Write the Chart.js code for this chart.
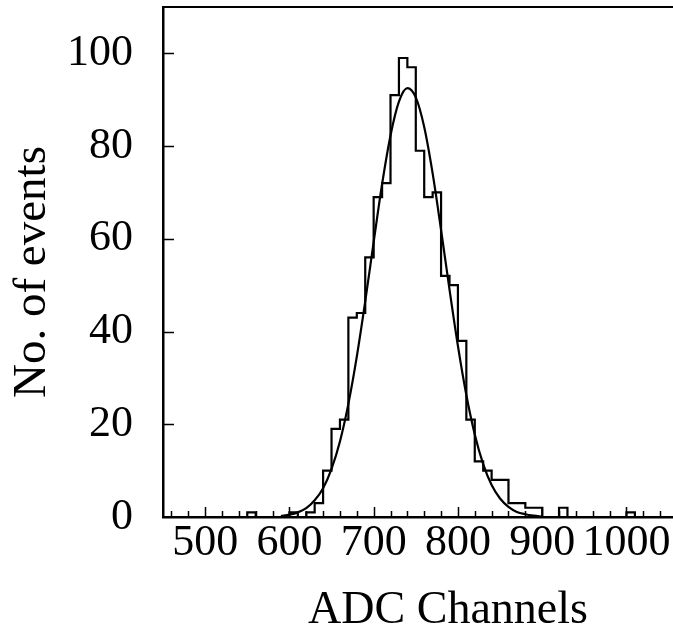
<!DOCTYPE html>
<html>
<head>
<meta charset="utf-8">
<script src="https://cdn.jsdelivr.net/npm/chart.js@4/dist/chart.umd.min.js"></script>
<style>
  html, body { margin: 0; padding: 0; background: #fff; overflow: hidden; }
  #wrap { position: relative; width: 677px; height: 630px; }
  .ttl { position: absolute; font-family: "Liberation Serif", "DejaVu Serif", serif; color: #000; white-space: nowrap; text-align: center; line-height: 50px; height: 50px; }
  #xt { left: 148px; top: 583px; width: 600px; font-size: 46px; }
  #yt { left: -171px; top: 247px; width: 400px; font-size: 47px; transform: rotate(-90deg); }
</style>
</head>
<body>
<div id="wrap">
  <canvas id="c"></canvas>
  <div class="ttl" id="xt">ADC Channels</div>
  <div class="ttl" id="yt">No. of events</div>
</div>
<script>
// Histogram bins (lower edges, ADC channels) and counts
const binLow = [450,460,470,480,490,500,510,520,530,540,
                550,560,570,580,590,600,610,620,630,640,
                650,660,670,680,690,700,710,720,730,740,
                750,760,770,780,790,800,810,820,830,840,
                850,860,870,880,890,900,910,920,930,940,
                950,960,970,980,990,1000,1010,1020,1030,1040,1050];
const counts = [0,0,0,0,0,0,0,0,0,0,
                1,0,0,0,0,1,0,1,3,10,
                19,21,43,44,56,69,72,91,99,97,
                79,69,70,52,50,38,21,12,10,8,
                8,3,3,2,2,0,0,2,0,0,
                0,0,0,0,0,1,0,0,0,0,0];
const binWidth = 10;

// Gaussian fit curve
const fitX = [590,600,610,620,630,640,650,660,670,680,690,700,710,720,730,740,
              750,760,770,780,790,800,810,820,830,840,850,860,870,880,890,900];
const fitY = [0.2,0.5,1.0,1.9,3.6,6.2,10.4,16.3,24.4,34.6,46.5,59.3,71.8,82.3,89.6,92.5,
              90.5,84.1,74.1,61.9,49.1,36.9,26.3,17.8,11.4,6.9,4.0,2.2,1.1,0.6,0.3,0.1];

// Axis ticks
const xTickValues = [460,480,500,520,540,560,580,600,620,640,660,680,700,720,740,760,780,800,
                     820,840,860,880,900,920,940,960,980,1000,1020,1040];
const xTickLabels = [500,600,700,800,900,1000];
const yTickValues = [0,20,40,60,80,100];

const histPts = [{x: binLow[0], y: 0}];
binLow.forEach((b, i) => histPts.push({x: b + binWidth, y: counts[i]}));
histPts.push({x: binLow[binLow.length - 1] + binWidth, y: 0});

const fitPts = fitX.map((x, i) => ({x: x, y: fitY[i]}));

const FONT = {family: "'Liberation Serif', 'DejaVu Serif', serif", size: 44};

const inwardTicks = {
  id: 'inwardTicks',
  afterDraw(chart) {
    const ctx = chart.ctx, xs = chart.scales.x, ys = chart.scales.y, a = chart.chartArea;
    ctx.save();
    ctx.strokeStyle = '#000';
    ctx.lineWidth = 1.5;
    ctx.beginPath();
    xs.ticks.forEach(t => {
      const px = Math.round(xs.getPixelForValue(t.value)) + 0.5;
      const len = xTickLabels.includes(t.value) ? 10 : 6;
      ctx.moveTo(px, a.bottom);
      ctx.lineTo(px, a.bottom - len);
    });
    ys.ticks.forEach(t => {
      if (t.value === 0) return;
      const py = Math.round(ys.getPixelForValue(t.value)) + 0.5;
      ctx.moveTo(a.left, py);
      ctx.lineTo(a.left + 11, py);
    });
    ctx.stroke();
    ctx.restore();
  }
};

new Chart(document.getElementById('c'), {
  type: 'line',
  data: {
    datasets: [
      {
        data: histPts,
        stepped: 'after',
        borderColor: '#000',
        borderWidth: 2.2,
        pointRadius: 0,
        fill: false
      },
      {
        data: fitPts,
        cubicInterpolationMode: 'monotone',
        borderColor: '#000',
        borderWidth: 2.2,
        pointRadius: 0,
        fill: false
      }
    ]
  },
  options: {
    responsive: true,
    maintainAspectRatio: false,
    animation: false,
    devicePixelRatio: 1,
    layout: {padding: {left: 0, top: 7, right: 0, bottom: 0}},
    plugins: {legend: {display: false}, tooltip: {enabled: false}, title: {display: false}},
    scales: {
      x: {
        type: 'linear',
        position: 'bottom',
        min: 450,
        max: 1060,
        afterBuildTicks: s => { s.ticks = xTickValues.map(v => ({value: v})); },
        afterFit: s => { s.height = 113; s.paddingLeft = 0; s.paddingRight = 0; },
        ticks: {
          autoSkip: false,
          maxRotation: 0,
          padding: 0,
          color: '#000',
          font: FONT,
          callback: v => xTickLabels.includes(v) ? String(v) : ''
        },
        grid: {display: true, drawOnChartArea: false, drawTicks: false},
        border: {display: true, color: '#000', width: 2.5}
      },
      x2: {
        type: 'linear',
        position: 'top',
        min: 450,
        max: 1060,
        afterFit: s => { s.height = 0; s.paddingLeft = 0; s.paddingRight = 0; },
        ticks: {display: false},
        grid: {display: true, drawOnChartArea: false, drawTicks: false},
        border: {display: true, color: '#000', width: 2}
      },
      y: {
        type: 'linear',
        min: 0,
        max: 110,
        afterBuildTicks: s => { s.ticks = yTickValues.map(v => ({value: v})); },
        afterFit: s => { s.width = 163; s.paddingTop = 0; s.paddingBottom = 0; },
        ticks: {padding: 30, color: '#000', font: FONT},
        grid: {display: true, drawOnChartArea: false, drawTicks: false},
        border: {display: true, color: '#000', width: 2.5}
      }
    }
  },
  plugins: [inwardTicks]
});
</script>
</body>
</html>
